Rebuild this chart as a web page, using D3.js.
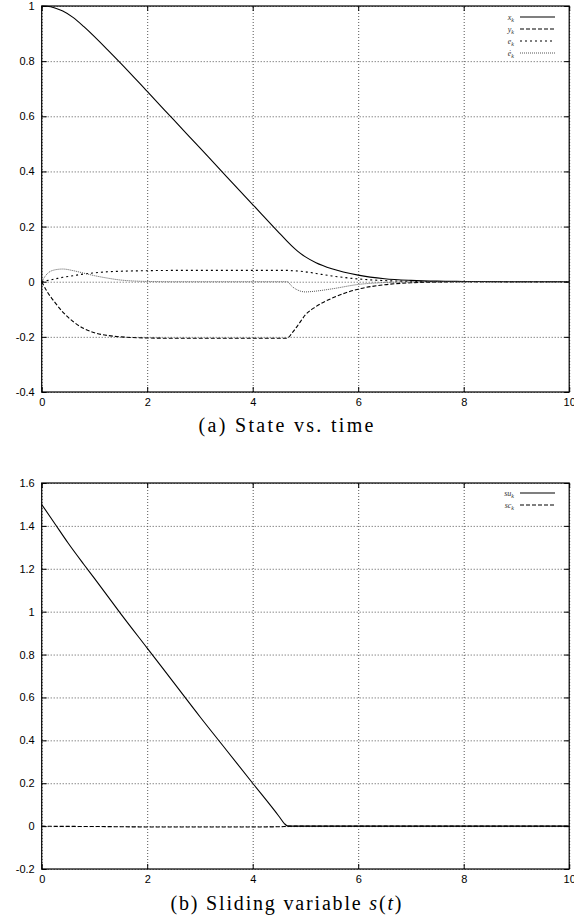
<!DOCTYPE html>
<html>
<head>
<meta charset="utf-8">
<script src="https://cdn.jsdelivr.net/npm/d3@7"></script>
<style>
  body { margin: 0; background: #fff; }
  svg { display: block; }
  .tick text { font-family: "Liberation Sans", Arial, sans-serif; font-size: 11px; fill: #000; }
  .caption { font-family: "Liberation Serif", "DejaVu Serif", serif; font-size: 20px; fill: #000; }
  .leg { font-family: "Liberation Serif", serif; font-size: 8px; font-style: italic; fill: #333; }
</style>
</head>
<body>
<svg id="fig" width="574" height="920"></svg>
<script>
// ---- data ----
var xTicks = [0, 2, 4, 6, 8, 10];

// (a) state vs. time
var tState = [0, 0.1, 0.25, 0.4, 0.6, 0.8, 1, 1.25, 1.5, 2, 2.5, 3, 3.5, 4, 4.5, 4.65, 4.75, 4.85, 5, 5.2, 5.5, 6, 6.5, 7, 7.5, 8, 9, 10];
var xK    = [1, 0.999, 0.993, 0.982, 0.958, 0.925, 0.889, 0.841, 0.792, 0.69, 0.5875, 0.485, 0.3825, 0.28, 0.1775, 0.147, 0.128, 0.111, 0.09, 0.069, 0.047, 0.024, 0.011, 0.005, 0.002, 0.001, 0, 0];
var yK    = [0, -0.035, -0.075, -0.11, -0.145, -0.17, -0.185, -0.195, -0.2, -0.204, -0.205, -0.205, -0.205, -0.205, -0.205, -0.205, -0.185, -0.16, -0.12, -0.09, -0.06, -0.027, -0.011, -0.004, -0.001, 0, 0, 0];
var eK    = [0, 0.004, 0.01, 0.016, 0.022, 0.028, 0.032, 0.036, 0.038, 0.04, 0.041, 0.041, 0.041, 0.041, 0.041, 0.041, 0.04, 0.039, 0.036, 0.03, 0.021, 0.01, 0.004, 0.0015, 0.0005, 0, 0, 0];
var eDotK = [0, 0.028, 0.043, 0.046, 0.04, 0.031, 0.022, 0.013, 0.006, 0.001, 0, 0, 0, 0, 0, 0, -0.018, -0.03, -0.037, -0.034, -0.026, -0.01, -0.003, -0.001, 0, 0, 0, 0];
var stateTicks = [-0.4, -0.2, 0, 0.2, 0.4, 0.6, 0.8, 1];

// (b) sliding variable
var tSlide = [0, 0.25, 0.5, 0.8, 1, 1.5, 2, 2.5, 3, 3.5, 4, 4.5, 4.6, 4.67, 5, 6, 7, 8, 9, 10];
var suK    = [1.5, 1.41, 1.32, 1.22, 1.155, 0.99, 0.83, 0.67, 0.51, 0.355, 0.2, 0.045, 0.012, 0, 0, 0, 0, 0, 0, 0];
var scK    = [0, -0.001, -0.001, -0.002, -0.002, -0.003, -0.004, -0.004, -0.004, -0.004, -0.004, -0.003, -0.002, 0, 0, 0, 0, 0, 0, 0];
var slideTicks = [-0.2, 0, 0.2, 0.4, 0.6, 0.8, 1, 1.2, 1.4, 1.6];

var styles = {
  solid:  { dash: null,  color: "#000", width: 1.1 },
  dashed: { dash: "4,2", color: "#000", width: 1.1 },
  short:  { dash: "2,3", color: "#000", width: 1.1 },
  dotted: { dash: "1,1", color: "#555", width: 1 }
};

var svg = d3.select("#fig");
svg.append("rect").attr("width", 574).attr("height", 920).attr("fill", "#fff");

var left = 41.7, W = 527.5, H = 386;

function fmt(d) { return String(+d.toFixed(1)); }

function panel(top, yDomain, yTicks, series, legendTop, captionY, captionParts, captionWidth) {
  var g = svg.append("g").attr("transform", "translate(" + left + "," + top + ")");
  var x = d3.scaleLinear().domain([0, 10]).range([0, W]);
  var y = d3.scaleLinear().domain(yDomain).range([H, 0]);

  // grid + labels
  var gx = g.append("g").attr("transform", "translate(0," + H + ")")
    .call(d3.axisBottom(x).tickValues(xTicks).tickSizeInner(-H).tickSizeOuter(0).tickPadding(6).tickFormat(fmt));
  var gy = g.append("g")
    .call(d3.axisLeft(y).tickValues(yTicks).tickSizeInner(-W).tickSizeOuter(0).tickPadding(7).tickFormat(fmt));
  [gx, gy].forEach(function(a) {
    a.select(".domain").remove();
    a.selectAll(".tick line").attr("stroke", "#555").attr("stroke-dasharray", "1,2");
  });

  // inward tick marks on all four sides
  var marks = [
    [d3.axisBottom(x).tickValues(xTicks), 0, H],
    [d3.axisTop(x).tickValues(xTicks), 0, 0],
    [d3.axisLeft(y).tickValues(yTicks), 0, 0],
    [d3.axisRight(y).tickValues(yTicks), W, 0]
  ];
  marks.forEach(function(m) {
    var a = g.append("g").attr("transform", "translate(" + m[1] + "," + m[2] + ")")
      .call(m[0].tickSize(-5).tickFormat(""));
    a.select(".domain").remove();
    a.selectAll(".tick line").attr("stroke", "#000");
  });

  // curves
  series.forEach(function(s) {
    var st = styles[s.style];
    var pts = s.t.map(function(t, i) { return [t, s.v[i]]; });
    g.append("path")
      .datum(pts)
      .attr("fill", "none")
      .attr("stroke", st.color)
      .attr("stroke-width", st.width)
      .attr("stroke-dasharray", st.dash)
      .attr("d", d3.line().curve(d3.curveMonotoneX)
        .x(function(d) { return x(d[0]); })
        .y(function(d) { return y(d[1]); }));
  });

  // frame
  g.append("rect").attr("width", W).attr("height", H)
    .attr("fill", "none").attr("stroke", "#000").attr("stroke-width", 1.2);

  // legend
  series.forEach(function(s, i) {
    var st = styles[s.style];
    var ly = legendTop + i * 12;
    var t = svg.append("text").attr("class", "leg")
      .attr("x", 514).attr("y", ly + 2.5).attr("text-anchor", "end");
    t.append("tspan").text(s.name);
    t.append("tspan").attr("font-size", "6px").attr("dy", 2).text("k");
    svg.append("line")
      .attr("x1", 520).attr("x2", 555).attr("y1", ly).attr("y2", ly)
      .attr("stroke", st.color).attr("stroke-width", st.width)
      .attr("stroke-dasharray", st.dash);
  });

  // caption
  var c = svg.append("text").attr("class", "caption")
    .attr("x", 286).attr("y", captionY).attr("text-anchor", "middle")
    .attr("textLength", captionWidth).attr("lengthAdjust", "spacing");
  captionParts.forEach(function(p) {
    c.append("tspan").attr("font-style", p.italic ? "italic" : null).text(p.text);
  });
}

panel(6, [-0.4, 1], stateTicks, [
  { name: "x", t: tState, v: xK, style: "solid" },
  { name: "y", t: tState, v: yK, style: "dashed" },
  { name: "e", t: tState, v: eK, style: "short" },
  { name: "\u0117", t: tState, v: eDotK, style: "dotted" }
], 17, 432, [{ text: "(a) State vs. time" }], 175);

panel(483, [-0.2, 1.6], slideTicks, [
  { name: "su", t: tSlide, v: suK, style: "solid" },
  { name: "sc", t: tSlide, v: scK, style: "dashed" }
], 493, 910, [
  { text: "(b) Sliding variable " }, { text: "s", italic: true },
  { text: "(" }, { text: "t", italic: true }, { text: ")" }
], 231);
</script>
</body>
</html>
